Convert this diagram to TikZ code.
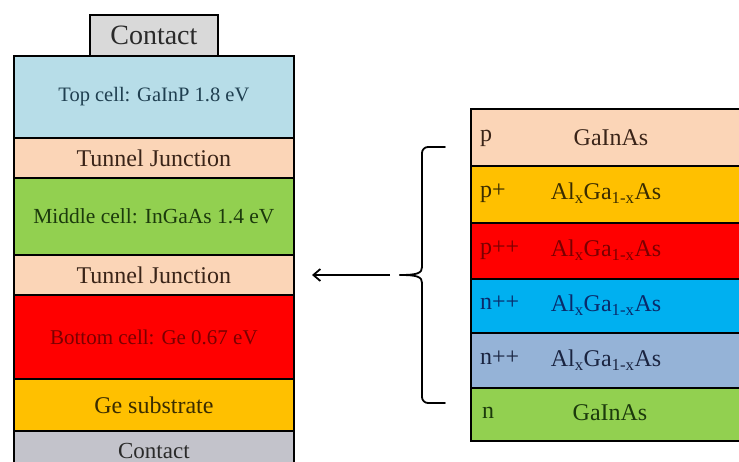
\documentclass[tikz,border=0pt]{standalone}
\usepackage{fontspec}
\setmainfont{Liberation Serif}
\usetikzlibrary{arrows.meta}
\definecolor{cgrey}{HTML}{D9D9D9}
\definecolor{cgrey2}{HTML}{C3C3CB}
\definecolor{cblue}{HTML}{B7DDE8}
\definecolor{cpeach}{HTML}{FBD5B7}
\definecolor{cgreen}{HTML}{92D050}
\definecolor{cred}{HTML}{FF0000}
\definecolor{corange}{HTML}{FFC000}
\definecolor{csky}{HTML}{00B0F0}
\definecolor{cslate}{HTML}{95B3D7}
\definecolor{tblue}{HTML}{1F3F50}
\definecolor{tbrown}{HTML}{3A2418}
\definecolor{tgreen}{HTML}{1C3A0C}
\definecolor{tred}{HTML}{7A0000}
\definecolor{tolive}{HTML}{3A2C00}
\definecolor{tgrey}{HTML}{2A2A2A}
\definecolor{tnavy}{HTML}{0A2A6A}
\definecolor{tslate}{HTML}{1A2440}
\tikzset{
  layer/.style={draw=black, line width=1.8pt, rectangle, inner sep=0pt, anchor=north west},
  leftlayer/.style={layer, minimum width=280pt},
  rightlayer/.style={layer, minimum width=290pt},
  lbl/.style={inner sep=0pt, font=\fontsize{24}{26}\selectfont},
  dop/.style={lbl, anchor=west},
  conn/.style={line width=1.8pt, black}
}
\begin{document}
\begin{tikzpicture}[x=1pt,y=-1pt]
\useasboundingbox (0,0) rectangle (739,462);
\clip (0,0) rectangle (739,462);
% left stack
\node[layer, fill=cgrey, minimum width=128pt, minimum height=41pt, font=\fontsize{28}{30}\selectfont, text=tgrey] (ctop) at (89,14) {Contact};
\node[leftlayer, fill=cblue, minimum height=82pt, font=\fontsize{20.5}{22}\selectfont, text=tblue] (topc) at (13,55) {Top cell: GaInP 1.8 eV};
\node[leftlayer, fill=cpeach, minimum height=40pt, font=\fontsize{24}{26}\selectfont, text=tbrown] (tj1) at (13,137) {Tunnel Junction};
\node[leftlayer, fill=cgreen, minimum height=77pt, font=\fontsize{21.5}{23}\selectfont, text=tgreen] (midc) at (13,177) {Middle cell: InGaAs 1.4 eV};
\node[leftlayer, fill=cpeach, minimum height=40pt, font=\fontsize{24}{26}\selectfont, text=tbrown] (tj2) at (13,254) {Tunnel Junction};
\node[leftlayer, fill=cred, minimum height=84pt, font=\fontsize{21}{23}\selectfont, text=tred] (botc) at (13,294) {Bottom cell: Ge 0.67 eV};
\node[leftlayer, fill=corange, minimum height=52pt, font=\fontsize{24}{26}\selectfont, text=tolive] (subs) at (13,378) {Ge substrate};
\node[leftlayer, fill=cgrey2, minimum height=40pt, font=\fontsize{23}{25}\selectfont, text=tgrey] (cbot) at (13,430) {Contact};
% right stack
\node[rightlayer, fill=cpeach, minimum height=57pt] (r1) at (470,108) {};
\node[rightlayer, fill=corange, minimum height=57pt] (r2) at (470,165) {};
\node[rightlayer, fill=cred, minimum height=56pt] (r3) at (470,222) {};
\node[rightlayer, fill=csky, minimum height=54pt] (r4) at (470,278) {};
\node[rightlayer, fill=cslate, minimum height=55pt] (r5) at (470,332) {};
\node[rightlayer, fill=cgreen, minimum height=53pt] (r6) at (470,387) {};
% labels
\node[dop, text=tbrown] (d1) at (480,138) {p};
\node[lbl, text=tbrown] (m1) at (611,138) {GaInAs};
\node[dop, text=tolive] (d2) at (480,193) {p+};
\node[lbl, text=tolive] (m2) at (606,193) {Al\textsubscript{x}Ga\textsubscript{1-x}As};
\node[dop, text=tred] (d3) at (480,250) {p++};
\node[lbl, text=tred] (m3) at (606,250) {Al\textsubscript{x}Ga\textsubscript{1-x}As};
\node[dop, text=tnavy] (d4) at (480,303) {n++};
\node[lbl, text=tnavy] (m4) at (606,305) {Al\textsubscript{x}Ga\textsubscript{1-x}As};
\node[dop, text=tslate] (d5) at (480,358) {n++};
\node[lbl, text=tslate] (m5) at (606,360) {Al\textsubscript{x}Ga\textsubscript{1-x}As};
\node[dop, text=tgreen] (d6) at (482,413) {n};
\node[lbl, text=tgreen] (m6) at (610,413) {GaInAs};
% brace
\coordinate (bt) at (445,147);
\coordinate (bb) at (445,403);
\coordinate (tip) at (400,275);
\draw[conn, line cap=round, line join=round] (bt) -- (428,147) to[out=180,in=90] (422,153) -- (422,267)
  .. controls (422,273) and (418,275) .. (tip);
\draw[conn, line cap=round, line join=round] (bb) -- (428,403) to[out=180,in=-90] (422,397) -- (422,283)
  .. controls (422,277) and (418,275) .. (tip);
% arrow
\coordinate (as) at (390,275);
\coordinate (ae) at (312,275);
\draw[conn, -{Straight Barb[length=7pt,width=12pt]}] (as) -- (ae);
\end{tikzpicture}
\end{document}
